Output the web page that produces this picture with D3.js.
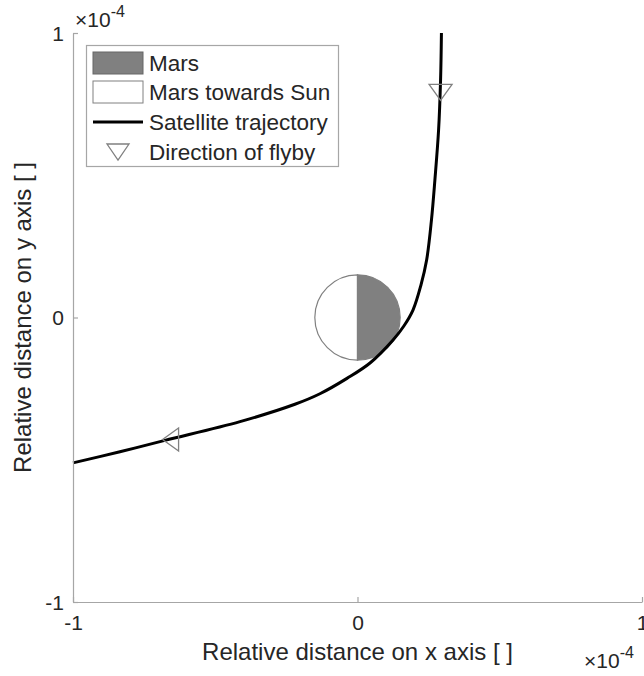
<!DOCTYPE html>
<html>
<head>
<meta charset="utf-8">
<script src="https://cdn.jsdelivr.net/npm/d3@7/dist/d3.min.js"></script>
<style>
  html, body { margin: 0; padding: 0; background: #fff; }
  svg { display: block; font-family: "Liberation Sans", Arial, Helvetica, sans-serif; }
</style>
</head>
<body>
<svg id="chart" width="644" height="676"></svg>
<script>
// Satellite trajectory relative to Mars (units of 1e-4)
const trajX = [0.295, 0.292, 0.285, 0.272, 0.260, 0.243, 0.223, 0.195, 0.163, 0.125, 0.044, -0.037, -0.132, -0.220, -0.413, -0.677, -0.835, -1.0];
const trajY = [1.000, 0.835, 0.659, 0.483, 0.343, 0.202, 0.114, 0.026, -0.030, -0.079, -0.160, -0.214, -0.268, -0.305, -0.366, -0.432, -0.472, -0.511];

// Direction-of-flyby markers
const flybyX = [0.292, -0.657];
const flybyY = [0.791, -0.429];
const flybyDir = ["down", "left"];

// Mars disc
const marsCenter = [0, 0];
const marsRadius = 0.15;

// Axes
const xTicks = [-1, 0, 1];
const yTicks = [-1, 0, 1];
const legendLabels = ["Mars", "Mars towards Sun", "Satellite trajectory", "Direction of flyby"];

const svg = d3.select("#chart");
const axisGray = "#a6a6a6";
const textDark = "#262626";
const marsGray = "#808080";

const x = d3.scaleLinear().domain([-1, 1]).range([73, 642]);
const y = d3.scaleLinear().domain([-1, 1]).range([602, 33]);

// Mars: white half facing the Sun (left), shaded half (right)
const cx = x(marsCenter[0]), cy = y(marsCenter[1]);
const rPx = x(marsRadius) - x(0);
const arc = d3.arc().innerRadius(0).outerRadius(rPx);
svg.append("path")
  .attr("transform", `translate(${cx},${cy})`)
  .attr("d", arc({startAngle: Math.PI, endAngle: 2 * Math.PI}))
  .attr("fill", "#fff").attr("stroke", marsGray).attr("stroke-width", 1.2);
svg.append("path")
  .attr("transform", `translate(${cx},${cy})`)
  .attr("d", arc({startAngle: 0, endAngle: Math.PI}))
  .attr("fill", marsGray).attr("stroke", marsGray).attr("stroke-width", 1.2);

// Trajectory
const pts = trajX.map((v, i) => [v, trajY[i]]);
svg.append("path")
  .datum(pts)
  .attr("fill", "none")
  .attr("stroke", "#000")
  .attr("stroke-width", 3)
  .attr("stroke-linejoin", "round")
  .attr("d", d3.line().x(d => x(d[0])).y(d => y(d[1])).curve(d3.curveCatmullRom.alpha(0.5)));

// Triangle marker path centred at origin
function tri(dir, w, h) {
  if (dir === "down") return `M${-w/2},${-h/2}L${w/2},${-h/2}L0,${h/2}Z`;
  if (dir === "left") return `M${h/2},${-w/2}L${h/2},${w/2}L${-h/2},0Z`;
  return "";
}
flybyX.forEach((v, i) => {
  svg.append("path")
    .attr("transform", `translate(${x(v)},${y(flybyY[i])})`)
    .attr("d", tri(flybyDir[i], 23, 16))
    .attr("fill", "none").attr("stroke", marsGray).attr("stroke-width", 1.3);
});

// Axes (left and bottom only, ticks pointing inward)
const xAxis = d3.axisBottom(x).tickValues(xTicks).tickSizeInner(-5).tickSizeOuter(0).tickPadding(12)
  .tickFormat(d3.format("d"));
const yAxis = d3.axisLeft(y).tickValues(yTicks).tickSizeInner(-5).tickSizeOuter(0).tickPadding(9)
  .tickFormat(d3.format("d"));

const gx = svg.append("g").attr("transform", `translate(0,${y(-1)})`).call(xAxis);
const gy = svg.append("g").attr("transform", `translate(${x(-1)},0)`).call(yAxis);
[gx, gy].forEach(g => {
  g.select(".domain").attr("stroke", axisGray).attr("stroke-width", 1.2);
  g.selectAll(".tick line").attr("stroke", axisGray).attr("stroke-width", 1.2);
  g.selectAll(".tick text").attr("fill", textDark).attr("font-size", 21)
    .attr("font-family", "Liberation Sans, Arial, sans-serif").text(d => d < 0 ? "-" + Math.abs(d) : d);
});
gx.selectAll(".tick text").attr("dy", "0.75em");
gy.selectAll(".tick text").attr("dy", "0.35em");

// Axis titles
svg.append("text")
  .attr("x", x(0)).attr("y", 660)
  .attr("text-anchor", "middle").attr("fill", textDark).attr("font-size", 24)
  .text("Relative distance on x axis [ ]");
svg.append("text")
  .attr("transform", `translate(31,${y(0)}) rotate(-90)`)
  .attr("text-anchor", "middle").attr("fill", textDark).attr("font-size", 24)
  .text("Relative distance on y axis [ ]");

// Exponent labels
function exponent(px, py) {
  const t = svg.append("text").attr("x", px).attr("y", py).attr("fill", textDark).attr("font-size", 21);
  t.append("tspan").text("\u00d710");
  t.append("tspan").attr("dy", -10).attr("font-size", 16).text("-4");
}
exponent(75, 27);
exponent(584, 668);

// Legend
const lg = svg.append("g");
lg.append("rect").attr("x", 86.5).attr("y", 45.5).attr("width", 252).attr("height", 121)
  .attr("fill", "#fff").attr("stroke", axisGray).attr("stroke-width", 1.2);
const rowY = [63, 92, 122, 152];
lg.append("rect").attr("x", 93).attr("y", rowY[0] - 11).attr("width", 50).attr("height", 22)
  .attr("fill", marsGray).attr("stroke", "#666").attr("stroke-width", 1);
lg.append("rect").attr("x", 93).attr("y", rowY[1] - 11).attr("width", 50).attr("height", 22)
  .attr("fill", "#fff").attr("stroke", marsGray).attr("stroke-width", 1);
lg.append("line").attr("x1", 93).attr("x2", 143).attr("y1", rowY[2]).attr("y2", rowY[2])
  .attr("stroke", "#000").attr("stroke-width", 3);
lg.append("path").attr("transform", `translate(118,${rowY[3]})`).attr("d", tri("down", 22, 16))
  .attr("fill", "none").attr("stroke", marsGray).attr("stroke-width", 1.3);
lg.selectAll("text.lab").data(legendLabels).join("text")
  .attr("class", "lab")
  .attr("x", 149).attr("y", (d, i) => rowY[i]).attr("dy", "0.35em")
  .attr("fill", textDark).attr("font-size", 22.5)
  .text(d => d);
</script>
</body>
</html>
